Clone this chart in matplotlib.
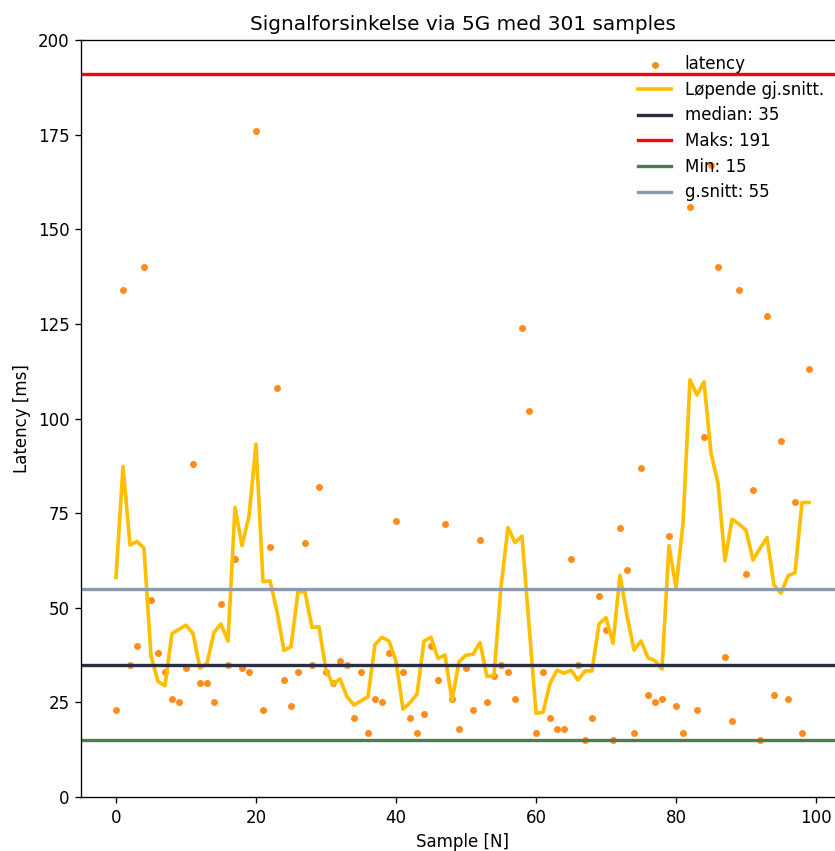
import matplotlib
matplotlib.use('Agg')
import matplotlib.pyplot as plt
import numpy as np

# latency per sample (every 3rd of 301 samples)
latency = [23, 134, 35, 40, 140, 52, 38, 33, 26, 25,
           34, 88, 30, 30, 25, 51, 35, 63, 34, 33,
           176, 23, 66, 108, 31, 24, 33, 67, 35, 82,
           33, 30, 36, 35, 21, 33, 17, 26, 25, 38,
           73, 33, 21, 17, 22, 40, 31, 72, 26, 18,
           34, 23, 68, 25, 32, 35, 33, 26, 124, 102,
           17, 33, 21, 18, 18, 63, 35, 15, 21, 53,
           44, 15, 71, 60, 17, 87, 27, 25, 26, 69,
           24, 17, 156, 23, 95, 167, 140, 37, 20, 134,
           59, 81, 15, 127, 27, 94, 26, 78, 17, 113]

running_avg = [58, 87.3, 66.6, 67.5, 65.7, 37.2, 30.5, 29.4, 43.2, 44.3,
               45.4, 43.2, 34.0, 35.3, 43.5, 45.7, 41.2, 76.5, 66.4, 74.2,
               93.2, 56.9, 57.1, 49.0, 38.7, 39.7, 54.2, 54.2, 44.8, 45.0,
               33.5, 29.8, 31.2, 26.5, 24.3, 25.4, 26.5, 40.3, 42.2, 41.2,
               35.9, 23.2, 24.9, 27.2, 41.2, 42.2, 36.6, 37.5, 25.6, 35.7,
               37.5, 37.7, 40.8, 31.8, 32.1, 55.6, 71.2, 67.2, 68.9, 45.5,
               22.1, 22.4, 30.0, 33.5, 32.7, 33.5, 30.9, 33.3, 33.3, 45.7,
               47.4, 40.6, 58.6, 47.9, 38.8, 41.2, 36.8, 36.0, 33.8, 66.4,
               55.4, 72.3, 110.2, 106.2, 109.7, 90.8, 82.9, 62.4, 73.4, 72.1,
               70.5, 62.6, 65.7, 68.5, 56.0, 53.8, 58.4, 59.3, 77.8, 77.8]

stat_names = ['median', 'Maks', 'Min', 'g.snitt']
stat_values = [35, 191, 15, 55]
stat_colors = ['#2B2D42', '#FF0000', '#527A50', '#8D99AE']

x = np.arange(len(latency))

fig = plt.figure(figsize=(835 / 120, 851 / 120), dpi=120)
ax = fig.add_axes([81.35 / 835, 1 - 797 / 851, 762.3 / 835, 757 / 851])

ax.scatter(x, latency, s=10, color='#FF8C1A', label='latency')
ax.plot(x, running_avg, color='#FFBF00', lw=2.2, label='Løpende gj.snitt.')
for name, val, col in zip(stat_names, stat_values, stat_colors):
    ax.axhline(val, color=col, lw=2, label=f'{name}: {val}')

ax.set_xlim(-4.95, 103.95)
ax.set_ylim(0, 200)
ax.set_title('Signalforsinkelse via 5G med 301 samples', fontsize=12)
ax.set_xlabel('Sample [N]')
ax.set_ylabel('Latency [ms]')
ax.legend(loc='upper right', frameon=False, labelspacing=0.46,
          bbox_to_anchor=(1 - 5 / 762, 1))

fig.savefig('out.png', dpi=120)
